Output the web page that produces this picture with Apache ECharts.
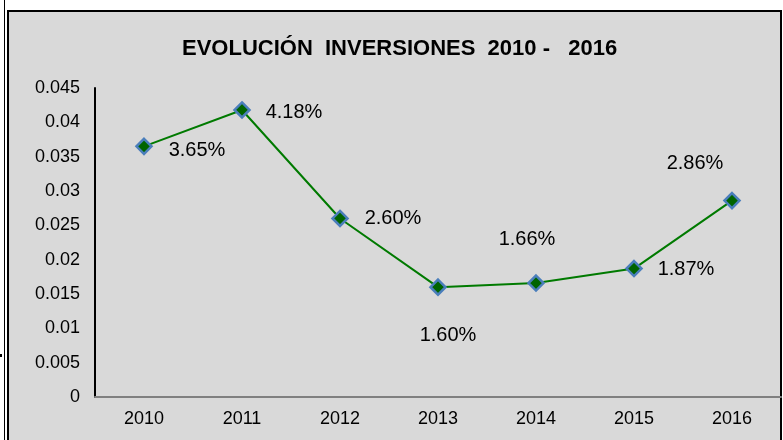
<!DOCTYPE html>
<html>
<head>
<meta charset="utf-8">
<script src="https://cdn.jsdelivr.net/npm/echarts@6/dist/echarts.min.js"></script>
<style>
  html, body { margin: 0; padding: 0; background: #fff; }
  #chart { width: 783px; height: 440px; }
</style>
</head>
<body>
<div id="chart"></div>
<script>
const YEARS = ["2010", "2011", "2012", "2013", "2014", "2015", "2016"];
const RATES = [0.0365, 0.0418, 0.0260, 0.0160, 0.0166, 0.0187, 0.0286];
const Y_TICKS = [0, 0.005, 0.01, 0.015, 0.02, 0.025, 0.03, 0.035, 0.04, 0.045];

// etiquetas colocadas a mano como en el original (desplazamiento respecto al punto)
const LABEL_OFFSETS = [[53, 4], [52, 3], [53, 0], [10, 48], [-9, -44], [52, 1], [-37, -37]];

const FONT = "Liberation Sans, Arial, sans-serif";

const chart = echarts.init(document.getElementById("chart"));

chart.setOption({
  backgroundColor: "#fff",
  animation: false,
  graphic: [
    { type: "rect", z: -10, shape: { x: 4, y: 0, width: 1, height: 440 }, style: { fill: "#000" } },
    { type: "rect", z: -10, shape: { x: 0, y: 354, width: 2, height: 3 }, style: { fill: "#000" } },
    { type: "rect", z: -10, shape: { x: 8, y: 11, width: 773, height: 440 },
      style: { fill: "#d9d9d9", stroke: "#000", lineWidth: 2 } },
  ],
  title: {
    text: "EVOLUCIÓN  INVERSIONES  2010 -   2016",
    left: 177,
    top: 33,
    textStyle: { fontFamily: FONT, fontSize: 22, fontWeight: "bold", color: "#000" },
  },
  grid: { left: 95, right: 2, top: 88, bottom: 43 },
  xAxis: {
    type: "category",
    data: YEARS,
    boundaryGap: true,
    axisLine: { lineStyle: { color: "#808080", width: 2 } },
    axisTick: { show: false },
    axisLabel: { color: "#000", fontFamily: FONT, fontSize: 18, margin: 13 },
  },
  yAxis: {
    type: "value",
    min: Y_TICKS[0],
    max: Y_TICKS[Y_TICKS.length - 1],
    interval: 0.005,
    axisLine: { show: true, lineStyle: { color: "#000", width: 2 } },
    axisTick: { show: false },
    splitLine: { show: false },
    axisLabel: {
      color: "#000", fontFamily: FONT, fontSize: 18, margin: 15,
      formatter: v => String(+v.toFixed(3)),
    },
  },
  series: [{
    type: "line",
    data: RATES.map((v, i) => ({
      value: v,
      label: { offset: LABEL_OFFSETS[i] },
    })),
    symbol: "diamond",
    symbolSize: 15,
    lineStyle: { color: "#007a00", width: 2 },
    itemStyle: { color: "#006400", borderColor: "#4a7ebb", borderWidth: 2.5 },
    label: {
      show: true,
      position: "inside",
      align: "center",
      verticalAlign: "middle",
      color: "#000",
      fontFamily: FONT,
      fontSize: 20,
      formatter: p => (p.value * 100).toFixed(2) + "%",
    },
  }],
});
</script>
</body>
</html>
